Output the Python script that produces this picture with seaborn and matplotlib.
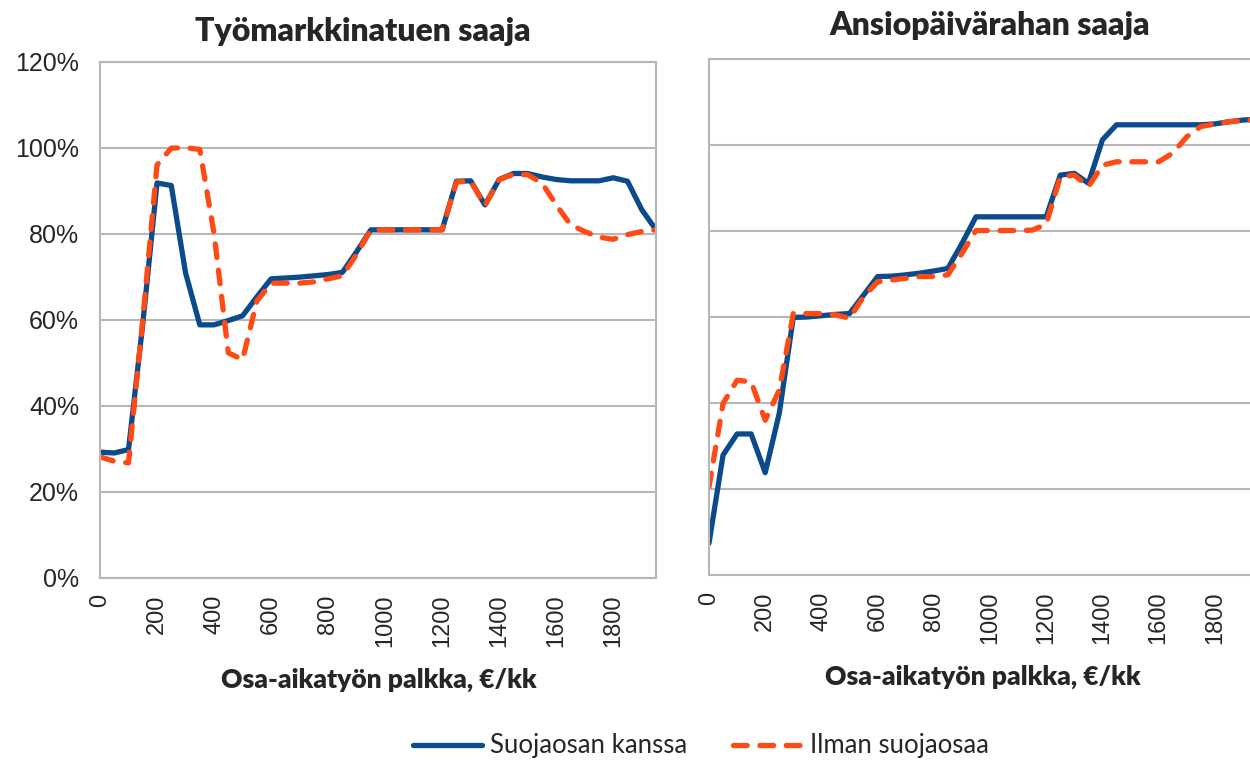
import matplotlib
matplotlib.use("Agg")
import matplotlib.pyplot as plt
from matplotlib.ticker import PercentFormatter
import seaborn as sns
import pandas as pd

# osa-aikatyön palkka, €/kk (luokat 50 euron välein)
palkka = [0, 50, 100, 150, 200, 250, 300, 350, 400, 450,
          500, 550, 600, 650, 700, 750, 800, 850, 900, 950,
          1000, 1050, 1100, 1150, 1200, 1250, 1300, 1350, 1400, 1450,
          1500, 1550, 1600, 1650, 1700, 1750, 1800, 1850, 1900, 1950]

# Työmarkkinatuen saaja, %
tmt_kanssa = [29.2, 29.0, 29.8, 59.0, 91.8, 91.2, 70.9, 58.8, 58.8, 59.8,
              60.9, 65.3, 69.5, 69.7, 69.9, 70.2, 70.5, 71.0, 75.8, 80.9,
              80.9, 80.9, 80.9, 80.9, 80.9, 92.2, 92.3, 86.7, 92.6, 94.0,
              94.0, 93.2, 92.6, 92.3, 92.3, 92.3, 93.0, 92.2, 85.6, 80.9]
tmt_ilman = [28.1, 27.1, 26.7, 60.0, 96.0, 99.9, 100.0, 99.6, 80.0, 52.3,
             50.7, 64.3, 68.5, 68.5, 68.5, 68.8, 69.5, 70.2, 75.2, 80.9,
             80.9, 80.9, 80.9, 80.9, 80.9, 92.0, 92.3, 86.5, 92.6, 93.8,
             93.7, 91.8, 86.7, 82.1, 80.5, 79.2, 78.7, 79.8, 80.5, 80.9]

# Ansiopäivärahan saaja, %
apr_kanssa = [7.4, 27.9, 32.8, 32.8, 23.8, 37.6, 59.9, 60.0, 60.3, 60.6,
              60.8, 65.1, 69.4, 69.5, 69.8, 70.2, 70.7, 71.3, 77.1, 83.3,
              83.3, 83.3, 83.3, 83.3, 83.3, 93.0, 93.4, 91.1, 101.2, 104.7,
              104.7, 104.7, 104.7, 104.7, 104.7, 104.7, 104.9, 105.4, 105.8, 106.0]
apr_ilman = [20.5, 39.9, 45.3, 44.9, 36.0, 43.0, 60.8, 60.8, 60.8, 60.5,
             59.7, 64.7, 68.2, 68.6, 69.0, 69.4, 69.4, 69.8, 74.8, 80.1,
             80.1, 80.1, 80.1, 80.2, 81.6, 92.6, 93.0, 90.3, 95.3, 96.1,
             96.1, 96.1, 96.1, 98.1, 101.9, 104.3, 104.9, 105.4, 105.7, 105.9]

sarjat = ["Suojaosan kanssa", "Ilman suojaosaa"]
otsikot = ["Työmarkkinatuen saaja", "Ansiopäivärahan saaja"]
xlabel = "Osa-aikatyön palkka, €/kk"

BLUE = "#0B4A8B"
RED = "#FF4A14"
GREY = "#B7B7B7"


def long_df(kanssa, ilman):
    return pd.concat([
        pd.DataFrame({"palkka": palkka, "osuus": kanssa, "sarja": sarjat[0]}),
        pd.DataFrame({"palkka": palkka, "osuus": ilman, "sarja": sarjat[1]}),
    ], ignore_index=True)


sns.set_style("white")
plt.rcParams["font.family"] = ["Liberation Sans", "DejaVu Sans"]

fig = plt.figure(figsize=(12.5, 7.61), dpi=100)
ax1 = fig.add_axes([100 / 1250, 1 - 577.7 / 761, 556 / 1250, 516 / 761])
ax2 = fig.add_axes([709 / 1250, 1 - 575 / 761, 548 / 1250, 516 / 761])

tick_labels = [str(p) if p % 200 == 0 else "" for p in palkka]

for ax, df in [(ax1, long_df(tmt_kanssa, tmt_ilman)), (ax2, long_df(apr_kanssa, apr_ilman))]:
    sns.lineplot(data=df, x="palkka", y="osuus", hue="sarja", style="sarja",
                 hue_order=sarjat, style_order=sarjat,
                 palette={sarjat[0]: BLUE, sarjat[1]: RED},
                 dashes={sarjat[0]: "", sarjat[1]: (2.6, 2.4)},
                 lw=3.8, legend=False, ax=ax)
    for line in ax.get_lines():
        line.set_dash_capstyle("round")
    ax.set_xlim(0, 1950)
    ax.set_ylim(0, 120)
    ax.set_yticks([0, 20, 40, 60, 80, 100, 120])
    ax.yaxis.set_major_formatter(PercentFormatter(100, decimals=0))
    ax.set_xticks(palkka)
    ax.set_xticklabels(tick_labels, rotation=90)
    ax.yaxis.grid(True, color=GREY, lw=1.5)
    ax.set_axisbelow(True)
    for sp in ax.spines.values():
        sp.set_color(GREY)
        sp.set_linewidth(1.5)
        sp.set_visible(True)
    ax.tick_params(axis="x", direction="out", length=4, width=1.5, color=GREY,
                   labelsize=17, pad=8)
    ax.set_xlabel("")
    ax.set_ylabel("")

ax1.tick_params(axis="y", direction="out", length=5, width=1.5, color=GREY,
                labelsize=18, pad=10)
ax2.tick_params(axis="y", length=0, labelleft=False)

fig.text(363 / 1250, 1 - 31 / 761, otsikot[0], ha="center", va="center",
         family=["Lato", "DejaVu Sans"], fontweight="heavy", fontsize=23)
fig.text(990 / 1250, 1 - 25 / 761, otsikot[1], ha="center", va="center",
         family=["Lato", "DejaVu Sans"], fontweight="heavy", fontsize=23)
fig.text(379 / 1250, 1 - 680 / 761, xlabel, ha="center", va="center",
         family=["Lato", "DejaVu Sans"], fontweight="heavy", fontsize=19)
fig.text(983 / 1250, 1 - 677 / 761, xlabel, ha="center", va="center",
         family=["Lato", "DejaVu Sans"], fontweight="heavy", fontsize=19)

handles = ax1.get_lines()[:2]
fig.legend(handles, sarjat, loc="center", bbox_to_anchor=(701 / 1250, 1 - 746 / 761),
           ncol=2, frameon=False, prop={"family": "Lato", "size": 18.5},
           handlelength=2.7, handletextpad=0.3, columnspacing=1.8)

plt.savefig("out.png", dpi=100)
